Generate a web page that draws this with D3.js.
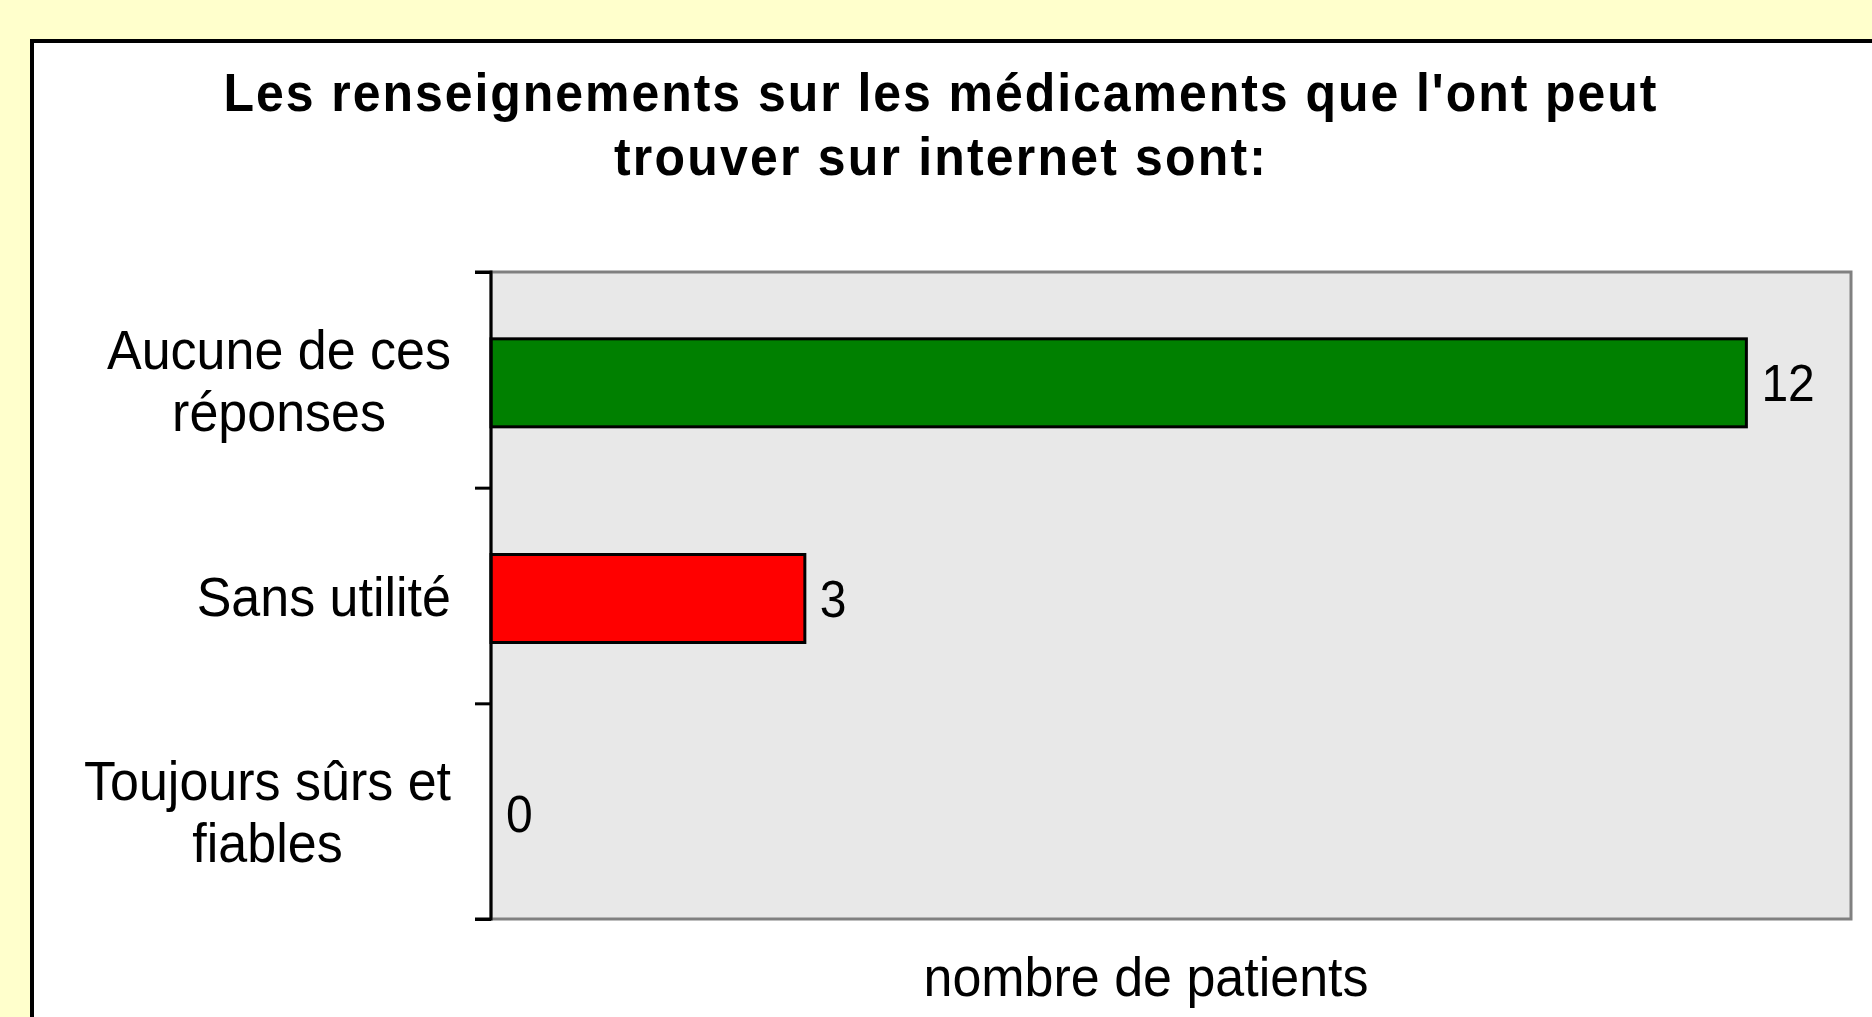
<!DOCTYPE html>
<html>
<head>
<meta charset="utf-8">
<script src="https://cdn.jsdelivr.net/npm/d3@7"></script>
<style>
    html, body { margin: 0; padding: 0; background: #ffffcc; }
    svg { display: block; }
    text { font-family: "Liberation Sans", Arial, sans-serif; fill: #000; }
</style>
</head>
<body>
<svg id="chart"></svg>
<script>
const titleLines = ["Les renseignements sur les médicaments que l'ont peut", "trouver sur internet sont:"]
const categories = [["Aucune de ces", "réponses"], ["Sans utilité"], ["Toujours sûrs et", "fiables"]]
const values = [12, 3, 0]
const barColors = ["#008000", "#ff0000", "#ff0000"]
const xTitle = "nombre de patients"
const xMax = 13

const width = 1872, height = 1017
const plot = { left: 491, right: 1851, top: 272, bottom: 919 }
// the original text is a bit taller than wide
const stretch = 1.08

const svg = d3.select('#chart')
    .attr('width', width)
    .attr('height', height)

// chart frame
svg.append('rect')
    .attr('x', 32).attr('y', 41)
    .attr('width', width).attr('height', height)
    .attr('fill', '#fff')
    .attr('stroke', '#000')
    .attr('stroke-width', 4)

const titleWidths = [1433, 652]
svg.selectAll('.title')
    .data(titleLines)
    .enter().append('text')
    .attr('class', 'title')
    .attr('transform', (d, i) => `translate(940,${111 + i * 64}) scale(1,${stretch})`)
    .attr('text-anchor', 'middle')
    .attr('font-size', 50)
    .attr('font-weight', 'bold')
    .attr('textLength', (d, i) => titleWidths[i])
    .attr('lengthAdjust', 'spacing')
    .text(d => d)

const x = d3.scaleLinear()
    .domain([0, xMax])
    .range([plot.left, plot.right])

const y = d3.scaleBand()
    .domain(d3.range(categories.length))
    .range([plot.top + 3, plot.bottom + 3])
    .paddingInner(0.592)
    .paddingOuter(0.296)

// plot background
svg.append('rect')
    .attr('x', plot.left).attr('y', plot.top)
    .attr('width', plot.right - plot.left)
    .attr('height', plot.bottom - plot.top)
    .attr('fill', '#e8e8e8')
    .attr('stroke', '#808080')
    .attr('stroke-width', 3)

svg.selectAll('.bar')
    .data(values)
    .enter().append('rect')
    .attr('class', 'bar')
    .attr('x', x(0))
    .attr('y', (d, i) => y(i))
    .attr('width', d => x(d) - x(0))
    .attr('height', y.bandwidth())
    .attr('fill', (d, i) => barColors[i])
    .attr('stroke', '#000')
    .attr('stroke-width', 3)
    .style('display', d => d > 0 ? null : 'none')

svg.selectAll('.value')
    .data(values)
    .enter().append('text')
    .attr('class', 'value')
    .attr('transform', (d, i) => `translate(${x(d) + 15},${y(i) + y.bandwidth() / 2 + 18}) scale(1,${stretch})`)
    .attr('font-size', 48)
    .text(d => d)

// category axis: ticks sit on the band boundaries
const yAxisScale = d3.scaleLinear()
    .domain([0, categories.length])
    .range([plot.top, plot.bottom])

svg.append('g')
    .attr('transform', `translate(${plot.left},0)`)
    .call(d3.axisLeft(yAxisScale).ticks(categories.length).tickSize(16).tickFormat(''))
    .call(g => g.selectAll('line, path').attr('stroke', '#000').attr('stroke-width', 3))
    .call(g => g.select('.domain').attr('d', `M-16,${plot.top}H0V${plot.bottom}H-16`))

const labelRight = 451
const lineH = 62
const labels = svg.selectAll('.cat')
    .data(categories)
    .enter().append('text')
    .attr('class', 'cat')
    .attr('font-size', 52)
    .attr('text-anchor', 'middle')

labels.each(function(lines, i) {
    const el = d3.select(this)
    const cy = y(i) + y.bandwidth() / 2
    el.attr('transform', `translate(0,${cy}) scale(1,${stretch})`)
    const y0 = (-(lines.length - 1) * lineH / 2 + 17) / stretch
    el.selectAll('tspan')
        .data(lines)
        .enter().append('tspan')
        .attr('y', (d, j) => y0 + j * lineH / stretch)
        .text(d => d)
    let maxW = 0
    el.selectAll('tspan').each(function() {
        maxW = Math.max(maxW, this.getComputedTextLength())
    })
    el.selectAll('tspan').attr('x', labelRight - maxW / 2)
})

svg.append('text')
    .attr('transform', `translate(1146,996) scale(1,${stretch})`)
    .attr('text-anchor', 'middle')
    .attr('font-size', 52)
    .text(xTitle)
</script>
</body>
</html>
